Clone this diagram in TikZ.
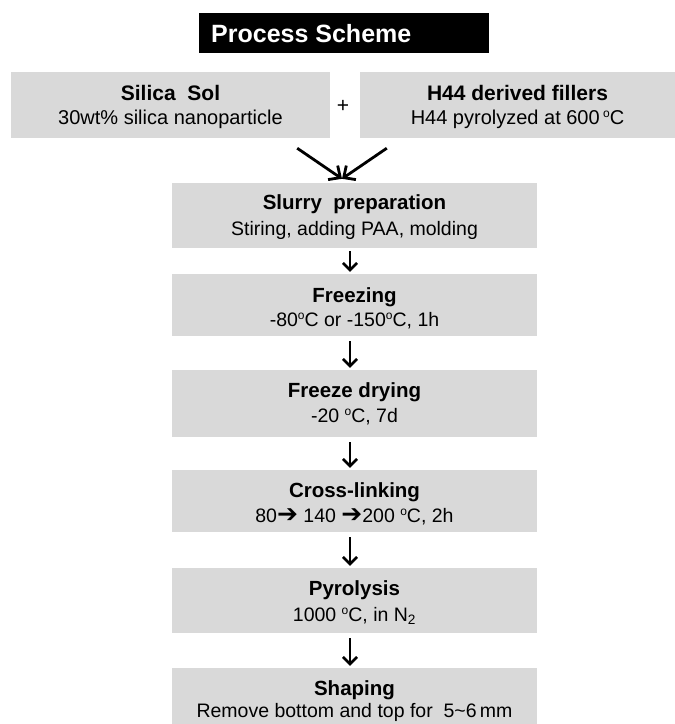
\documentclass[tikz,border=0pt]{standalone}
\usepackage{fontspec}
\setmainfont{Liberation Sans}
\newfontfamily\djv{DejaVu Sans}
\usetikzlibrary{arrows.meta}
\definecolor{boxgray}{RGB}{217,217,217}
\tikzset{
  box/.style={fill=boxgray, draw=none, inner sep=0pt, minimum width=365pt},
  ttl/.style={font=\fontsize{20.5}{24}\selectfont\bfseries, anchor=base, inner sep=0pt},
  sub/.style={font=\fontsize{19.5}{23}\selectfont, anchor=base, inner sep=0pt},
  ttlbig/.style={font=\fontsize{21}{25}\selectfont\bfseries, anchor=base, inner sep=0pt},
  subbig/.style={font=\fontsize{20}{24}\selectfont, anchor=base, inner sep=0pt},
  flow/.style={line width=2.6pt, -{Straight Barb[length=7pt,width=14pt]}},
  merge/.style={line width=2.8pt, -{Straight Barb[length=9pt,width=17pt]}}
}
\newcommand{\dg}{\raisebox{6.5pt}{\fontsize{12}{12}\selectfont o}}
\newcommand{\rar}{{\djv\fontsize{25}{25}\selectfont ➔}}
\begin{document}
\begin{tikzpicture}[x=1pt,y=-1pt]
\useasboundingbox (0,0) rectangle (675,724);
% header
\node[fill=black, minimum width=290pt, minimum height=40pt, inner sep=0pt] (head) at (344,33) {};
\node[anchor=base west, inner sep=0pt, text=white, font=\fontsize{25}{30}\selectfont\bfseries] (head-t) at (211,42) {Process Scheme};
% top boxes
\node[box, minimum width=319pt, minimum height=66pt] (silica) at (170.5,105) {};
\node[ttlbig] (silica-t) at (170.5,100) {Silica\ \ Sol};
\node[subbig] (silica-s) at (170.5,124) {30wt\% silica nanoparticle};
\node[box, minimum width=315pt, minimum height=66pt] (h44) at (517.5,105) {};
\node[ttlbig] (h44-t) at (517.5,100) {H44 derived fillers};
\node[subbig] (h44-s) at (517.5,124) {H44 pyrolyzed at 600\,\dg C};
\node[inner sep=0pt, font=\fontsize{21}{24}\selectfont] (plus) at (343,106) {+};
% process boxes
\node[box, minimum height=65pt] (slurry) at (354.5,215.5) {};
\node[ttl] (slurry-t) at (354.5,209) {Slurry\ \ preparation};
\node[sub] (slurry-s) at (354.5,235) {Stiring, adding PAA, molding};
\node[box, minimum height=62pt] (freeze) at (354.5,305) {};
\node[ttl] (freeze-t) at (354.5,302) {Freezing};
\node[sub] (freeze-s) at (354.5,326) {-80\dg C or -150\dg C, 1h};
\node[box, minimum height=67pt] (fd) at (354.5,403.5) {};
\node[ttl] (fd-t) at (354.5,397) {Freeze drying};
\node[sub] (fd-s) at (354.5,422) {-20 \dg C, 7d};
\node[box, minimum height=62pt] (cl) at (354.5,501) {};
\node[ttl] (cl-t) at (354.5,497) {Cross-linking};
\node[sub] (cl-s) at (354.5,522) {80\rar\ 140 \rar 200 \dg C, 2h};
\node[box, minimum height=65pt] (pyro) at (354.5,600.5) {};
\node[ttl] (pyro-t) at (354.5,595) {Pyrolysis};
\node[sub] (pyro-s) at (354.5,621) {1000 \dg C, in N\textsubscript{2}};
\node[box, minimum height=56pt] (shape) at (354.5,696) {};
\node[ttl] (shape-t) at (354.5,695) {Shaping};
\node[sub] (shape-s) at (354.5,717) {Remove bottom and top for\ \ 5\textasciitilde6\,mm};
% merging arrows
\draw[merge] ([xshift=-33pt,yshift=-10pt]silica.south east) -- ([xshift=-12.5pt,yshift=4pt]slurry.north);
\draw[merge] ([xshift=27pt,yshift=-10pt]h44.south west) -- ([xshift=-12.5pt,yshift=4pt]slurry.north);
% down arrows
\draw[flow] ([xshift=-4.5pt,yshift=-3pt]slurry.south) -- ([xshift=-4.5pt,yshift=2pt]freeze.north);
\draw[flow] ([xshift=-4.5pt,yshift=-5pt]freeze.south) -- ([xshift=-4.5pt,yshift=2pt]fd.north);
\draw[flow] ([xshift=-4.5pt,yshift=-5pt]fd.south) -- ([xshift=-4.5pt,yshift=2pt]cl.north);
\draw[flow] ([xshift=-4.5pt,yshift=-5pt]cl.south) -- ([xshift=-4.5pt,yshift=2pt]pyro.north);
\draw[flow] ([xshift=-4.5pt,yshift=-5pt]pyro.south) -- ([xshift=-4.5pt,yshift=2pt]shape.north);
\end{tikzpicture}
\end{document}
